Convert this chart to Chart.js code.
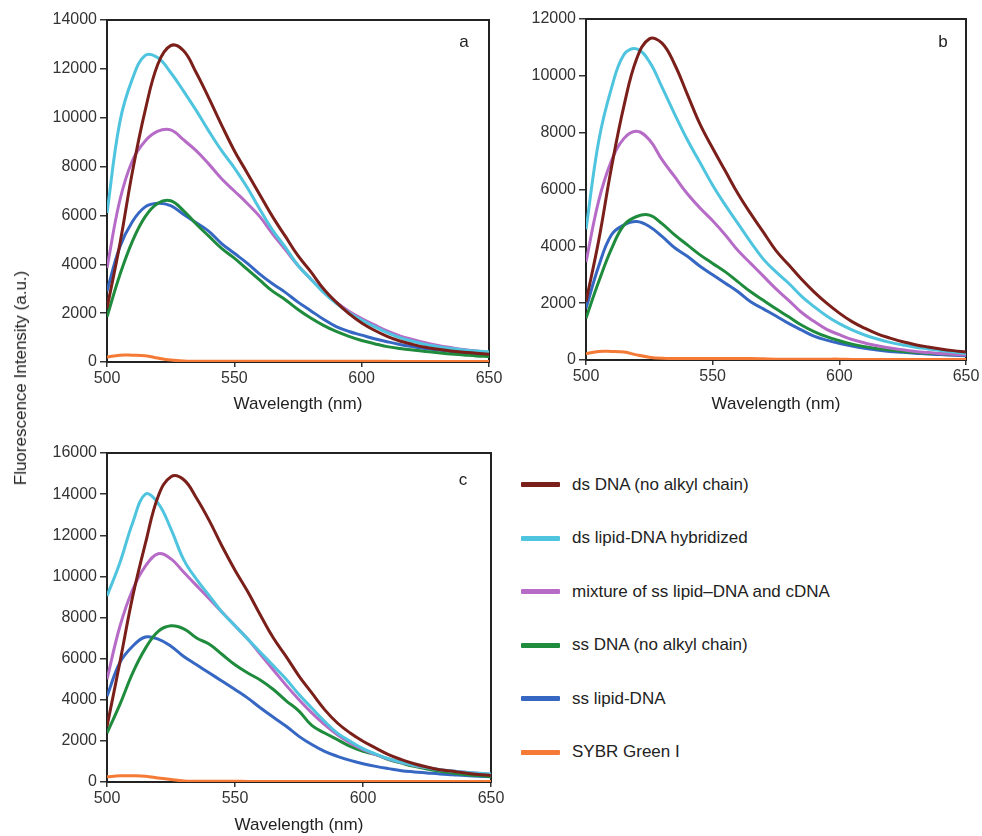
<!DOCTYPE html>
<html lang="en">
<head>
    <meta charset="UTF-8">
    <title>Fluorescence spectra of SYBR Green I with DNA</title>

    <!-- Chart.js -->
    <script src="https://cdn.jsdelivr.net/npm/chart.js"></script>

    <style>
        body {
            margin: 0;
            background: #fff;
            font-family: 'Liberation Sans', Arial, sans-serif;
        }
        #page {
            position: relative;
            width: 982px;
            height: 836px;
            overflow: hidden;
        }
        .panel {
            position: absolute;
        }
        /* shared y axis title for all three panels */
        #yTitle {
            position: absolute;
            left: 21px;
            top: 378px;
            transform: translate(-50%, -50%) rotate(-90deg);
            white-space: nowrap;
            font-size: 17px;
            color: #222;
        }
        #legend {
            position: absolute;
            left: 521px;
            top: 458px;
        }
        .legend-row {
            height: 53.5px;
            display: flex;
            align-items: center;
            font-size: 17px;
            color: #222;
        }
        .legend-swatch {
            width: 39px;
            height: 5px;
            margin-right: 12px;
            border-radius: 1px;
        }
    </style>
</head>
<body>

<div id="page">
    <div class="panel" id="panelA" style="left:0; top:0; width:520px; height:420px;"><canvas id="chartA"></canvas></div>
    <div class="panel" id="panelB" style="left:500px; top:0; width:482px; height:420px;"><canvas id="chartB"></canvas></div>
    <div class="panel" id="panelC" style="left:0; top:420px; width:520px; height:416px;"><canvas id="chartC"></canvas></div>
    <div id="yTitle">Fluorescence Intensity (a.u.)</div>
    <div id="legend"></div>
</div>

<script>
    // Emission wavelengths (nm)
    const wavelengths = [500, 505, 510, 515, 520, 525, 530, 535, 540, 545, 550, 555, 560, 565, 570, 575,
                         580, 585, 590, 595, 600, 605, 610, 615, 620, 625, 630, 635, 640, 645, 650];

    const seriesNames = [
        'ds DNA (no alkyl chain)',
        'ds lipid-DNA hybridized',
        'mixture of ss lipid\u2013DNA and cDNA',
        'ss DNA (no alkyl chain)',
        'ss lipid-DNA',
        'SYBR Green I'
    ];
    const seriesColors = ['#7a1f19', '#4fc4de', '#b66cc7', '#1f8b3c', '#3567c3', '#f47a35'];

    // Panel a
    const dsDNA_a    = [2200, 4800, 7800, 10300, 12200, 12950, 12750, 11850, 10800, 9700, 8650, 7750, 6850, 5950, 5150, 4350,
                        3700, 3000, 2450, 1980, 1600, 1300, 1050, 860, 720, 600, 520, 450, 400, 360, 320];
    const dsLipid_a  = [6100, 9800, 11600, 12550, 12450, 11850, 11100, 10300, 9450, 8650, 7950, 7150, 6250, 5400, 4700, 3950,
                        3400, 2850, 2400, 2020, 1720, 1450, 1200, 1000, 850, 720, 630, 550, 490, 450, 420];
    const mixture_a  = [3850, 6600, 8250, 9050, 9450, 9500, 9100, 8650, 8100, 7500, 7000, 6500, 5950, 5250, 4600, 3950,
                        3400, 2900, 2450, 2080, 1780, 1520, 1270, 1070, 920, 790, 680, 590, 510, 450, 390];
    const ssDNA_a    = [1850, 3550, 4950, 5950, 6500, 6600, 6200, 5650, 5150, 4650, 4250, 3800, 3350, 2900, 2550, 2150,
                        1800, 1500, 1250, 1050, 880, 750, 630, 550, 490, 430, 380, 330, 290, 250, 220];
    const ssLipid_a  = [2900, 4700, 5750, 6350, 6500, 6400, 6050, 5700, 5350, 4850, 4450, 4050, 3600, 3200, 2850, 2450,
                        2100, 1750, 1450, 1250, 1100, 950, 830, 720, 630, 550, 490, 430, 380, 350, 320];
    const sybr_a     = [200, 280, 280, 260, 160, 80, 40, 30, 30, 30, 30, 30, 30, 30, 30, 30,
                        30, 30, 30, 30, 30, 30, 30, 20, 20, 20, 20, 20, 20, 20, 20];

    // Panel b
    const dsDNA_b    = [2050, 4200, 6750, 8950, 10600, 11300, 11150, 10400, 9350, 8300, 7450, 6650, 5850, 5150, 4500, 3850,
                        3350, 2850, 2400, 2000, 1650, 1350, 1120, 920, 770, 640, 540, 460, 390, 330, 280];
    const dsLipid_b  = [4600, 7700, 9550, 10750, 10950, 10500, 9600, 8650, 7750, 6950, 6150, 5450, 4800, 4150, 3550, 3100,
                        2700, 2250, 1880, 1550, 1280, 1060, 880, 740, 620, 530, 450, 390, 330, 280, 230];
    const mixture_b  = [3450, 5600, 7000, 7800, 8050, 7750, 7050, 6450, 5850, 5350, 4900, 4400, 3850, 3400, 2950, 2500,
                        2100, 1680, 1360, 1080, 890, 720, 600, 500, 420, 360, 300, 260, 230, 200, 180];
    const ssDNA_b    = [1470, 2750, 3900, 4750, 5050, 5100, 4800, 4400, 4050, 3700, 3400, 3100, 2750, 2400, 2100, 1800,
                        1520, 1230, 1000, 820, 680, 560, 470, 400, 350, 300, 270, 240, 220, 200, 180];
    const ssLipid_b  = [1820, 3300, 4400, 4750, 4870, 4700, 4350, 3950, 3650, 3300, 3000, 2700, 2400, 2050, 1800, 1550,
                        1290, 1060, 840, 700, 590, 490, 410, 350, 300, 270, 240, 210, 190, 170, 150];
    const sybr_b     = [220, 300, 300, 280, 180, 100, 60, 50, 50, 50, 50, 50, 50, 50, 40, 30,
                        30, 30, 30, 30, 30, 20, 20, 20, 20, 20, 20, 20, 20, 20, 20];

    // Panel c
    const dsDNA_c    = [2700, 5800, 9000, 11600, 13900, 14850, 14700, 13800, 12700, 11450, 10300, 9250, 8100, 7000, 6100, 5150,
                        4330, 3520, 2870, 2380, 1980, 1650, 1330, 1090, 890, 730, 600, 520, 440, 370, 320];
    const dsLipid_c  = [9050, 10650, 12600, 14000, 13550, 12300, 10800, 9850, 9050, 8250, 7600, 6950, 6300, 5650, 5000, 4250,
                        3600, 2950, 2380, 1980, 1620, 1360, 1130, 960, 810, 700, 600, 530, 470, 420, 390];
    const mixture_c  = [5000, 7550, 9350, 10500, 11100, 10850, 10200, 9550, 8900, 8250, 7600, 6950, 6200, 5450, 4700, 4000,
                        3360, 2790, 2300, 1900, 1570, 1330, 1120, 950, 800, 700, 600, 530, 470, 420, 380];
    const ssDNA_c    = [2380, 3760, 5300, 6500, 7330, 7600, 7450, 7000, 6700, 6200, 5700, 5300, 4950, 4500, 3950, 3450,
                        2750, 2380, 2060, 1730, 1490, 1330, 1090, 920, 760, 630, 520, 440, 370, 310, 260];
    const ssLipid_c  = [4170, 5800, 6600, 7050, 6950, 6600, 6100, 5700, 5300, 4900, 4500, 4080, 3600, 3150, 2710, 2220,
                        1820, 1490, 1250, 1050, 890, 760, 650, 550, 490, 440, 390, 350, 310, 280, 250];
    const sybr_c     = [250, 300, 300, 280, 200, 120, 50, 40, 40, 40, 40, 30, 30, 30, 30, 30,
                        30, 30, 30, 30, 30, 30, 30, 30, 30, 30, 30, 30, 30, 30, 30];

    // y axis ranges per panel
    const yMaxA = 14000, yMaxB = 12000, yMaxC = 16000;

    const tickFont = { family: "'Liberation Sans', Arial, sans-serif", size: 16 };
    const titleFont = { family: "'Liberation Sans', Arial, sans-serif", size: 17 };

    // Frame around the plot area, drawn under the curves
    const framePlugin = {
        id: 'frame',
        beforeDatasetsDraw(chart) {
            const { ctx, chartArea } = chart;
            ctx.save();
            ctx.strokeStyle = '#222';
            ctx.lineWidth = 2;
            ctx.strokeRect(chartArea.left, chartArea.top,
                           chartArea.right - chartArea.left, chartArea.bottom - chartArea.top);
            ctx.restore();
        }
    };

    // Panel letter in the upper right corner
    const tagPlugin = {
        id: 'panelTag',
        afterDraw(chart, args, opts) {
            const { ctx, chartArea } = chart;
            ctx.save();
            ctx.font = "17px 'Liberation Sans', Arial, sans-serif";
            ctx.fillStyle = '#222';
            ctx.textAlign = 'center';
            ctx.textBaseline = 'middle';
            ctx.fillText(opts.text, chartArea.right + opts.dx, chartArea.top + opts.dy);
            ctx.restore();
        }
    };

    function makeDatasets(seriesList) {
        return seriesList.map((values, i) => ({
            label: seriesNames[i],
            data: wavelengths.map((w, j) => ({ x: w, y: values[j] })),
            borderColor: seriesColors[i],
            backgroundColor: seriesColors[i],
            borderWidth: 3,
            pointRadius: 0,
            tension: 0.4,
            fill: false
        }));
    }

    function makeChart(canvasId, seriesList, yMax, padding, xAxisHeight, tag) {
        return new Chart(document.getElementById(canvasId), {
            type: 'line',
            data: { datasets: makeDatasets(seriesList) },
            options: {
                responsive: true,
                maintainAspectRatio: false,
                animation: false,
                layout: { padding: padding },
                plugins: {
                    legend: { display: false },
                    tooltip: { enabled: false },
                    panelTag: tag
                },
                scales: {
                    x: {
                        type: 'linear',
                        min: 500,
                        max: 650,
                        border: { display: false },
                        grid: { drawOnChartArea: false, tickLength: 5, color: '#333', lineWidth: 1.5 },
                        ticks: { stepSize: 50, color: '#333', font: tickFont, padding: 2, maxRotation: 0 },
                        title: { display: true, text: 'Wavelength (nm)', color: '#222', font: titleFont, padding: 0 },
                        afterFit(scale) {
                            scale.height = xAxisHeight;
                            scale.paddingLeft = 0;
                            scale.paddingRight = 0;
                        }
                    },
                    y: {
                        min: 0,
                        max: yMax,
                        border: { display: false },
                        grid: { drawOnChartArea: false, tickLength: 7, color: '#333', lineWidth: 1.5 },
                        ticks: { stepSize: 2000, color: '#333', font: tickFont, padding: 3,
                                 callback: v => String(v) },
                        afterFit(scale) {
                            scale.width = 60;
                            scale.paddingTop = 0;
                            scale.paddingBottom = 0;
                        }
                    }
                }
            },
            plugins: [framePlugin, tagPlugin]
        });
    }

    makeChart('chartA', [dsDNA_a, dsLipid_a, mixture_a, ssDNA_a, ssLipid_a, sybr_a], yMaxA,
              { left: 47, right: 31, top: 20, bottom: 5 }, 53, { text: 'a', dx: -25, dy: 22 });
    makeChart('chartB', [dsDNA_b, dsLipid_b, mixture_b, ssDNA_b, ssLipid_b, sybr_b], yMaxB,
              { left: 26, right: 16, top: 19, bottom: 5 }, 55, { text: 'b', dx: -23, dy: 23 });
    makeChart('chartC', [dsDNA_c, dsLipid_c, mixture_c, ssDNA_c, ssLipid_c, sybr_c], yMaxC,
              { left: 47, right: 29, top: 33, bottom: 0 }, 54, { text: 'c', dx: -28, dy: 27 });

    // Legend built from the same names and colours as the datasets
    const legendBox = document.getElementById('legend');
    seriesNames.forEach((name, i) => {
        const row = document.createElement('div');
        row.className = 'legend-row';
        const swatch = document.createElement('span');
        swatch.className = 'legend-swatch';
        swatch.style.background = seriesColors[i];
        const label = document.createElement('span');
        label.textContent = name;
        row.appendChild(swatch);
        row.appendChild(label);
        legendBox.appendChild(row);
    });
</script>

</body>
</html>
